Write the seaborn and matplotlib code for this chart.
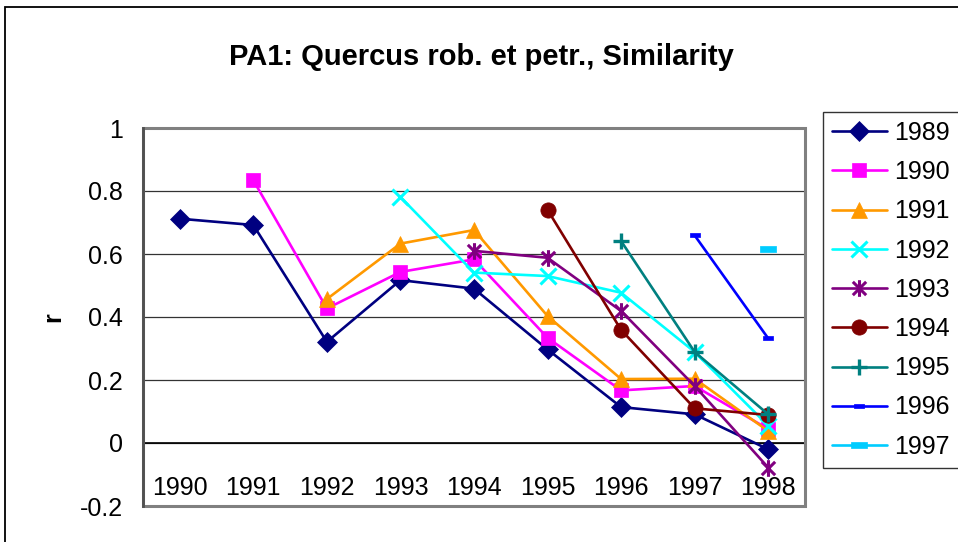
import numpy as np
import pandas as pd
import matplotlib
matplotlib.use("Agg")
import matplotlib.pyplot as plt
from matplotlib.path import Path
from matplotlib.patches import Rectangle
from matplotlib.ticker import FixedLocator, NullFormatter
import seaborn as sns

# categories on the x axis
years = ["1990", "1991", "1992", "1993", "1994", "1995", "1996", "1997", "1998"]
nan = np.nan

# one series per start year (r values)
s1989 = [0.712, 0.692, 0.321, 0.517, 0.490, 0.297, 0.114, 0.091, -0.020]
s1990 = [nan, 0.834, 0.427, 0.543, 0.583, 0.334, 0.167, 0.181, 0.044]
s1991 = [nan, nan, 0.457, 0.633, 0.676, 0.403, 0.203, 0.204, 0.038]
s1992 = [nan, nan, nan, 0.781, 0.541, 0.530, 0.477, 0.289, 0.055]
s1993 = [nan, nan, nan, nan, 0.610, 0.588, 0.419, 0.181, -0.078]
s1994 = [nan, nan, nan, nan, nan, 0.740, 0.359, 0.110, 0.089]
s1995 = [nan, nan, nan, nan, nan, nan, 0.641, 0.289, 0.091]
s1996 = [nan, nan, nan, nan, nan, nan, nan, 0.659, 0.332]
s1997 = [nan, nan, nan, nan, nan, nan, nan, nan, 0.617]

series_names = ["1989", "1990", "1991", "1992", "1993", "1994", "1995", "1996", "1997"]
series_values = [s1989, s1990, s1991, s1992, s1993, s1994, s1995, s1996, s1997]

sns.set_style("white")
plt.rcParams["font.family"] = ["Liberation Sans", "DejaVu Sans"]
plt.rcParams["text.color"] = "black"
plt.rcParams["xtick.color"] = "black"
plt.rcParams["ytick.color"] = "black"

# Excel-like marker shapes
asterisk = Path([(-1, -1), (1, 1), (-1, 1), (1, -1), (0, -1.25), (0, 1.25)],
                [Path.MOVETO, Path.LINETO, Path.MOVETO, Path.LINETO, Path.MOVETO, Path.LINETO])
dash_small = Path([(-1, -0.45), (1, -0.45), (1, 0.45), (-1, 0.45), (-1, -0.45)],
                  [Path.MOVETO, Path.LINETO, Path.LINETO, Path.LINETO, Path.CLOSEPOLY])
dash_wide = Path([(-1, -0.33), (1, -0.33), (1, 0.33), (-1, 0.33), (-1, -0.33)],
                 [Path.MOVETO, Path.LINETO, Path.LINETO, Path.LINETO, Path.CLOSEPOLY])

styles = {
    "1989": dict(color="#000080", marker="D", markersize=10, markeredgewidth=0.5),
    "1990": dict(color="#FF00FF", marker="s", markersize=10.5, markeredgewidth=0.5),
    "1991": dict(color="#FF9900", marker="^", markersize=12, markeredgewidth=0.5),
    "1992": dict(color="#00FFFF", marker="x", markersize=11, markeredgewidth=2.2),
    "1993": dict(color="#800080", marker=asterisk, markersize=12, markeredgewidth=2.2),
    "1994": dict(color="#800000", marker="o", markersize=11, markeredgewidth=0.5),
    "1995": dict(color="#008080", marker="+", markersize=12, markeredgewidth=2.4),
    "1996": dict(color="#0000FF", marker=dash_small, markersize=7.5, markeredgewidth=0.5),
    "1997": dict(color="#00CCFF", marker=dash_wide, markersize=12, markeredgewidth=0.5),
}

fig = plt.figure(figsize=(9.58, 5.42), dpi=100)
ax = fig.add_axes([143 / 958, 1 - 506 / 542, (805 - 143) / 958, (506 - 128) / 542])

for name, vals in zip(series_names, series_values):
    df = pd.DataFrame({"x": np.arange(len(years)), "r": vals}).dropna()
    st = styles[name]
    sns.lineplot(data=df, x="x", y="r", ax=ax, label=name, color=st["color"],
                 marker=st["marker"], markersize=st["markersize"],
                 markeredgecolor=st["color"], markerfacecolor=st["color"],
                 markeredgewidth=st["markeredgewidth"], linewidth=1.9,
                 sort=False, clip_on=False, zorder=5)

ax.set_xlim(-0.5, len(years) - 0.5)
ax.set_ylim(-0.2, 1.0)
ax.set_yticks([-0.2, 0, 0.2, 0.4, 0.6, 0.8, 1.0])
ax.set_yticklabels(["-0.2", "0", "0.2", "0.4", "0.6", "0.8", "1"])
ax.set_xticks(np.arange(len(years)))
ax.set_xticklabels(years)
ax.xaxis.set_minor_locator(FixedLocator(np.arange(len(years)) + 0.5))
ax.xaxis.set_minor_formatter(NullFormatter())
ax.set_xlabel("")
ax.set_ylabel("")

ax.tick_params(axis="x", which="major", length=0, pad=24, labelsize=18)
ax.tick_params(axis="x", which="minor", length=6, width=1, color="black", direction="out")
ax.tick_params(axis="y", length=6.5, width=1, color="black", direction="out", pad=8, labelsize=18)

ax.grid(axis="y", color="#333333", linewidth=0.9)
ax.set_axisbelow(True)

for side in ["top", "right"]:
    ax.spines[side].set_visible(False)
ax.spines["bottom"].set_position(("data", 0))
ax.spines["bottom"].set_color("black")
ax.spines["bottom"].set_linewidth(1.2)
ax.spines["left"].set_color("#505050")
ax.spines["left"].set_linewidth(2.0)
ax.spines["left"].set_zorder(4)

# grey plot area frame
ax.add_patch(Rectangle((0, 0), 1, 1, transform=ax.transAxes, fill=False,
                       edgecolor="#808080", linewidth=2.2, clip_on=False, zorder=3))

# outer chart border
fig.patches.append(Rectangle((5 / 958, -0.1), 1.2, 1.1 - 7 / 542, transform=fig.transFigure,
                             fill=False, edgecolor="black", linewidth=1.3))

fig.text(481 / 958, 1 - 65 / 542, "PA1: Quercus rob. et petr., Similarity",
         ha="center", va="baseline", fontsize=21, fontweight="bold")
fig.text(53 / 958, 1 - 317 / 542, "r", rotation=90, ha="center", va="center",
         fontsize=18, fontweight="bold")

leg = ax.legend(loc="upper left", bbox_to_anchor=(823 / 958, 1 - 112 / 542),
                bbox_transform=fig.transFigure, borderaxespad=0, frameon=True,
                fancybox=False, fontsize=18, handlelength=2.2, handletextpad=0.3,
                labelspacing=0.61, borderpad=0.35)
leg.get_frame().set_edgecolor("black")
leg.get_frame().set_linewidth(1.0)

fig.savefig("out.png", dpi=100)
